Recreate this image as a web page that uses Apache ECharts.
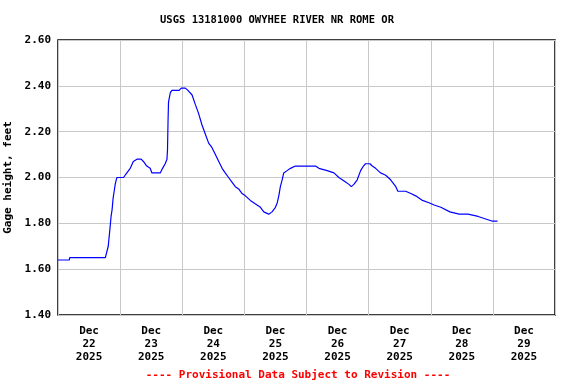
<!DOCTYPE html>
<html>
<head>
<meta charset="utf-8">
<script src="https://cdn.jsdelivr.net/npm/echarts@6/dist/echarts.min.js"></script>
<style>html,body{margin:0;padding:0;background:#fff}#c{width:576px;height:384px}</style>
</head>
<body>
<div id="c"></div>
<script>
// Hours since Dec 22 2025 00:00
const hours = [0,4.4,4.5,18.3,19.4,20.1,20.5,20.9,21.3,21.7,22.1,22.5,22.8,25.3,26.6,27.9,29.1,30.5,32.1,33.0,34.3,35.6,36.3,39.5,40.4,41.4,42.1,42.3,42.5,42.7,43.4,44.0,46.8,47.6,49.2,50.2,51.8,53.0,54.3,55.6,56.9,58.2,59.5,60.8,62.1,63.4,64.6,65.9,67.2,68.5,69.8,71.1,72.4,74.3,75.6,76.9,78.2,79.5,81.4,82.7,83.3,84.0,84.7,85.3,85.9,86.6,87.2,88.5,89.8,91.7,99.5,100.8,104.0,106.6,108.5,109.8,111.1,112.4,113.3,114.3,115.6,116.9,118.0,118.8,120.5,121.4,122.7,124.6,126.6,128.5,130.5,131.3,134.3,136.3,138.2,140.8,143.3,145.3,147.9,151.4,155.0,158.4,162.3,167.6,169.8];
const gageHeight = [1.64,1.64,1.65,1.65,1.70,1.78,1.83,1.86,1.91,1.94,1.97,1.99,2.00,2.00,2.02,2.04,2.07,2.08,2.08,2.07,2.05,2.04,2.02,2.02,2.04,2.06,2.08,2.12,2.24,2.33,2.37,2.38,2.38,2.39,2.39,2.38,2.36,2.32,2.28,2.23,2.19,2.15,2.13,2.10,2.07,2.04,2.02,2.00,1.98,1.96,1.95,1.93,1.92,1.90,1.89,1.88,1.87,1.85,1.84,1.85,1.85,1.87,1.89,1.92,1.96,1.99,2.02,2.03,2.04,2.05,2.05,2.04,2.03,2.02,2.00,1.99,1.98,1.97,1.96,1.97,1.99,2.03,2.05,2.06,2.06,2.05,2.04,2.02,2.01,1.99,1.96,1.94,1.94,1.93,1.92,1.90,1.89,1.88,1.87,1.85,1.84,1.84,1.83,1.81,1.81];
const dayLabels = ['Dec\n22\n2025','Dec\n23\n2025','Dec\n24\n2025','Dec\n25\n2025','Dec\n26\n2025','Dec\n27\n2025','Dec\n28\n2025','Dec\n29\n2025'];
const yTicks = [1.4, 2.6, 0.2]; // min, max, interval
const titleText = 'USGS 13181000 OWYHEE RIVER NR ROME OR';
const footerText = '---- Provisional Data Subject to Revision ----';
const yName = 'Gage height, feet';

const FONT = '"DejaVu Sans Mono", "Liberation Mono", monospace';
const chart = echarts.init(document.getElementById('c'), null, {renderer:'canvas'});
chart.setOption({
  animation:false,
  backgroundColor:'#fff',
  grid:{left:58,right:21,top:40,bottom:69,containLabel:false,outerBoundsMode:'none',show:true,borderColor:'#000',borderWidth:1.5,backgroundColor:'transparent'},
  graphic:[
    {type:'text',x:277,y:20,style:{text:titleText,font:'bold 10.5px '+FONT,fill:'#000',textAlign:'center',textVerticalAlign:'middle'}},
    {type:'text',x:298,y:375,style:{text:footerText,font:'bold 11px '+FONT,fill:'#ff0000',textAlign:'center',textVerticalAlign:'middle'}}
  ],
  xAxis:[
    {type:'value',min:0,max:192,interval:24,axisLine:{show:false},axisTick:{show:false},axisLabel:{show:false},
     splitLine:{show:true,lineStyle:{color:'#c8c8c8',width:1}}},
    {type:'category',data:dayLabels,boundaryGap:true,position:'bottom',axisLine:{show:false},axisTick:{show:false},splitLine:{show:false},
     axisLabel:{show:true,margin:10,fontFamily:FONT,fontWeight:'bold',fontSize:11,lineHeight:13,color:'#000',interval:0}}
  ],
  yAxis:{type:'value',min:yTicks[0],max:yTicks[1],interval:yTicks[2],
    name:yName,nameLocation:'middle',nameRotate:90,nameGap:41,
    nameTextStyle:{fontFamily:FONT,fontWeight:'bold',fontSize:11,color:'#000'},
    axisLine:{show:false},axisTick:{show:false},
    axisLabel:{margin:7,fontFamily:FONT,fontWeight:'bold',fontSize:11,color:'#000',formatter:v=>v.toFixed(2)},
    splitLine:{show:true,lineStyle:{color:'#c8c8c8',width:1}}},
  series:[{type:'line',xAxisIndex:0,data:hours.map((h,i)=>[h,gageHeight[i]]),showSymbol:false,
    lineStyle:{color:'#0000ff',width:1.2},itemStyle:{color:'#0000ff'}}]
});
</script>
</body>
</html>
